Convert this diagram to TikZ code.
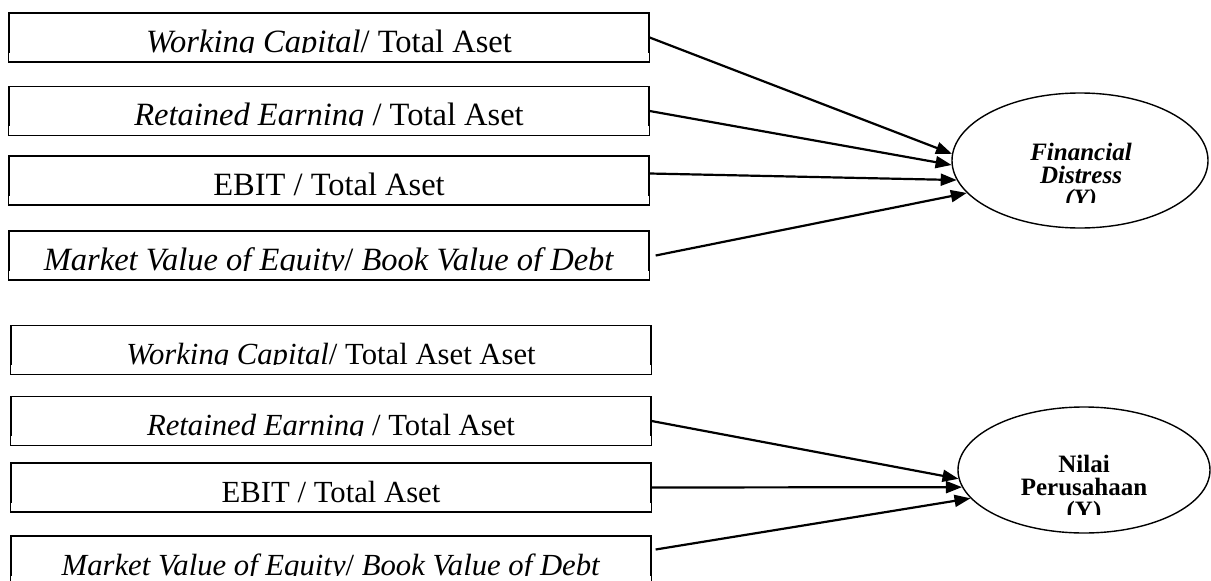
\documentclass[tikz,border=0pt]{standalone}
\usepackage{fontspec}
\setmainfont{Liberation Serif}
\usetikzlibrary{arrows.meta,shapes.geometric}

\tikzset{
  varbox/.style={draw, rectangle, line width=1.3pt, inner sep=0pt,
    minimum width=640pt, minimum height=49pt, text height=39pt, text depth=10pt,
    font=\fontsize{#1}{36}\selectfont},
  varbox/.default=31,
  konstruk/.style={draw, ellipse, line width=1.4pt, inner sep=0pt},
  judul/.style={inner sep=0pt, align=center, font=\bfseries\fontsize{25}{23}\selectfont},
  panah/.style={-{Triangle[length=16pt,width=12pt]}, line width=2.2pt},
}

\begin{document}
\begin{tikzpicture}[x=1pt,y=-1pt]
  \useasboundingbox (0,0) rectangle (1211,581);
  % model 1: financial distress
  \node[varbox=32.5] (wca) at (329,37.5) {\textit{Working Capital}/ Total Aset};
  \node[varbox=32.5] (rea) at (329,111) {\textit{Retained Earning} / Total Aset};
  \node[varbox=32.5] (ebita) at (329,180.5) {EBIT / Total Aset};
  \node[varbox=32.5] (mva) at (329,255.5) {\textit{Market Value of Equity}/ \textit{Book Value of Debt}};
  \node[konstruk, minimum width=256pt, minimum height=135pt] (fd) at (1080,160.5) {};
  \node[judul, anchor=base] (fdlbl) at (1081,206) {\textit{Financial}\\ \textit{Distress}\\ \textit{(Y)}};
  % model 2: nilai perusahaan
  \node[varbox=30.7] (wcb) at (331,350) {\textit{Working Capital}/ Total Aset Aset};
  \node[varbox=30.7] (reb) at (331,421) {\textit{Retained Earning} / Total Aset};
  \node[varbox=30.7] (ebitb) at (331,487.5) {EBIT / Total Aset};
  \node[varbox=30.7] (mvb) at (331,560.5) {\textit{Market Value of Equity}/ \textit{Book Value of Debt}};
  \node[konstruk, minimum width=252pt, minimum height=126pt] (nv) at (1084,470) {};
  \node[judul, anchor=base] (nvlbl) at (1084,518) {Nilai\\ Perusahaan\\ (Y)};
  % cut-off text lines
  \foreach \b in {wca,rea,ebita,mva,wcb,reb,ebitb,mvb}
    \fill[white] ([xshift=1pt,yshift=1.2pt]\b.south west) rectangle ([xshift=-1pt,yshift=10pt]\b.south east);
  \fill[white] ([xshift=-24pt,yshift=-42.5pt]fd.center) rectangle ([xshift=24pt,yshift=-56pt]fd.center);
  \fill[white] ([xshift=-24pt,yshift=-45pt]nv.center) rectangle ([xshift=24pt,yshift=-56pt]nv.center);
  % arrows
  \draw[panah] (wca.east) -- (fd.177);
  \draw[panah] (rea.east) -- (fd.182);
  \draw[panah] ([yshift=7pt]ebita.east) -- (fd.189);
  \draw[panah] ([xshift=6pt]mva.east) -- (fd.196);
  \draw[panah] (reb.east) -- (nv.184);
  \draw[panah] (ebitb.east) -- (nv.188);
  \draw[panah] ([xshift=4pt,yshift=11pt]mvb.east) -- (nv.194);
\end{tikzpicture}
\end{document}
